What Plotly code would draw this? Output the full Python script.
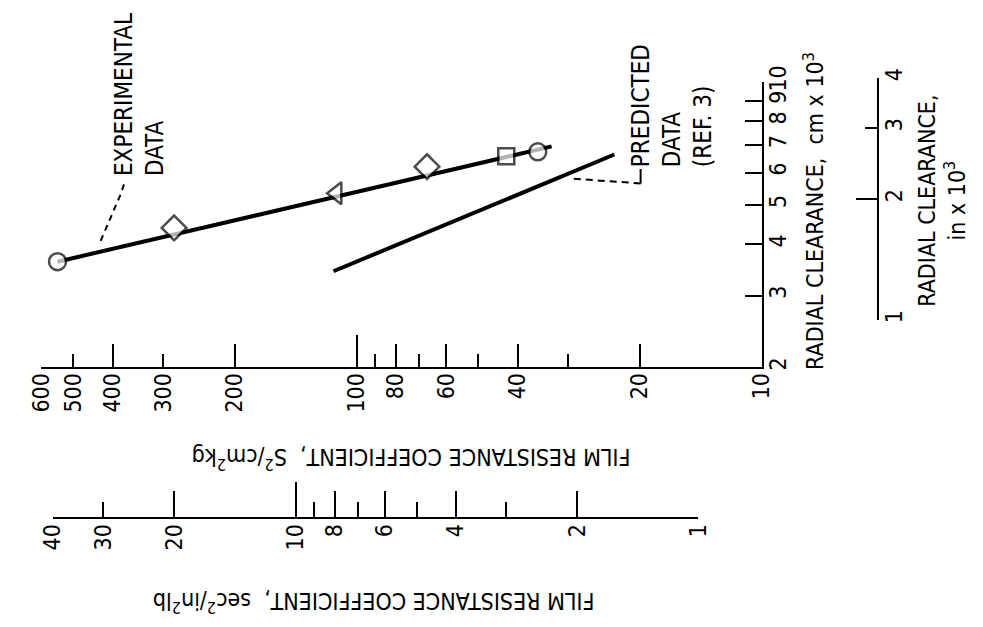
import math
import plotly.graph_objects as go

W, H = 983, 627
FONT = "Liberation Sans Narrow, DejaVu Sans Condensed, Arial Narrow, sans-serif"
INK = "black"

# Experimental film resistance coefficient (S^2/cm^2 kg) vs radial clearance (cm x 10^3)
exp_symbols = ["circle", "diamond", "triangle-left", "diamond", "square", "circle"]
exp_resistance = [547, 282, 112, 67, 42.7, 35.7]
exp_clearance = [3.63, 4.39, 5.34, 6.20, 6.58, 6.74]

# Straight line faired through the experimental points
exp_fit_resistance = [547, 33]
exp_fit_clearance = [3.63, 6.95]

# Predicted values (ref. 3)
pred_resistance = [114, 23.1]
pred_clearance = [3.44, 6.64]

# Leader lines for the two labels (resistance, clearance)
exp_leader_resistance = [375, 382, 431]
exp_leader_clearance = [5.61, 5.31, 4.02]
pred_leader_solid_resistance = [19.9, 19.9]
pred_leader_solid_clearance = [6.12, 5.64]
pred_leader_dash_resistance = [19.9, 29.4]
pred_leader_dash_clearance = [5.64, 5.80]

# Primary resistance scale, S^2/cm^2 kg
res_range = [600, 10]
res_long_ticks = [600, 400, 200, 80, 60, 40, 20]
res_short_ticks = [500, 300, 90, 70, 50, 30]
res_major_ticks = [100]
res_labels = [600, 500, 400, 300, 200, 100, 80, 60, 40, 20, 10]

# Secondary resistance scale, sec^2/in^2 lb
res2_range = [40, 1]
res2_long_ticks = [40, 20, 8, 6, 4, 2]
res2_short_ticks = [30, 9, 7, 5, 3]
res2_major_ticks = [10, 1]
res2_labels = [40, 30, 20, 10, 8, 6, 4, 2, 1]

# Primary clearance scale, cm x 10^3
clr_range = [2, 10]
clr_ticks = [3, 4, 5, 6, 7, 8, 9]
clr_major_ticks = [10]
clr_labels = [2, 3, 4, 5, 6, 7, 8, 9, 10]

# Secondary clearance scale, in x 10^3
clr2_range = [1, 4]
clr2_long_ticks = [1, 4]
clr2_mid_ticks = [2]
clr2_short_ticks = [3]
clr2_labels = [1, 2, 3, 4]


def px(x):
    return x / W


def py(y):
    return 1 - y / H


def lg(v):
    return [math.log10(a) for a in v]


X_DOM = [px(28), px(768)]
Y_DOM = [py(362), py(67)]
X2_DOM = [px(40), px(703)]
X2_POS = py(518)
Y2_DOM = [py(313), py(63)]
Y2_POS = px(887)

fig = go.Figure()

line_style = dict(color=INK, width=4)
fig.add_trace(go.Scatter(x=exp_fit_resistance, y=exp_fit_clearance, mode="lines",
                         line=line_style, showlegend=False, hoverinfo="skip"))
fig.add_trace(go.Scatter(x=pred_resistance, y=pred_clearance, mode="lines",
                         line=line_style, showlegend=False, hoverinfo="skip"))
fig.add_trace(go.Scatter(x=exp_leader_resistance, y=exp_leader_clearance, mode="lines",
                         line=dict(color=INK, width=2, dash="6px,5px"),
                         showlegend=False, hoverinfo="skip"))
fig.add_trace(go.Scatter(x=pred_leader_solid_resistance, y=pred_leader_solid_clearance,
                         mode="lines", line=dict(color=INK, width=2),
                         showlegend=False, hoverinfo="skip"))
fig.add_trace(go.Scatter(x=pred_leader_dash_resistance, y=pred_leader_dash_clearance,
                         mode="lines", line=dict(color=INK, width=2, dash="7px,5px"),
                         showlegend=False, hoverinfo="skip"))

marker_sizes = {"circle": 17, "diamond": 19, "triangle-left": 19, "square": 16}
fig.add_trace(go.Scatter(
    x=exp_resistance, y=exp_clearance, mode="markers",
    marker=dict(symbol=exp_symbols, size=[marker_sizes[s] for s in exp_symbols],
                color="white", line=dict(color=INK, width=2.5)),
    showlegend=False, hoverinfo="skip", cliponaxis=False))

layout = dict(
    width=W, height=H, margin=dict(l=0, r=0, t=0, b=0),
    paper_bgcolor="white", plot_bgcolor="rgba(0,0,0,0)",
    font=dict(family=FONT, color=INK, size=22),
    showlegend=False,
)

tick_font = dict(family=FONT, size=23, color=INK)


def x_layer(base_range, domain, vals, length, labels=None, overlay=None, anchor="y",
            position=None, line=False):
    ax = dict(type="log", range=lg(base_range), domain=domain, autorange=False,
              side="bottom", showgrid=False, zeroline=False, fixedrange=True,
              tickmode="array", tickvals=vals,
              ticks="inside" if length else "", ticklen=length, tickwidth=2,
              tickcolor=INK, showline=line, linecolor=INK, linewidth=2,
              showticklabels=labels is not None)
    if labels is not None:
        ax.update(ticktext=[str(v) for v in labels], tickangle=-90, tickfont=tick_font)
    if overlay:
        ax["overlaying"] = overlay
    if anchor == "free":
        ax.update(anchor="free", position=position)
    else:
        ax["anchor"] = anchor
    return ax


def y_layer(base_range, domain, vals, length, labels=None, overlay=None, anchor="x",
            position=None, line=False):
    ax = dict(type="log", range=lg(base_range), domain=domain, autorange=False,
              side="right", showgrid=False, zeroline=False, fixedrange=True,
              tickmode="array", tickvals=vals,
              ticks="inside" if length else "", ticklen=length, tickwidth=2,
              tickcolor=INK, showline=line, linecolor=INK, linewidth=2,
              showticklabels=labels is not None)
    if labels is not None:
        ax.update(ticktext=[str(v) for v in labels], tickangle=-90, tickfont=tick_font)
    if overlay:
        ax["overlaying"] = overlay
    if anchor == "free":
        ax.update(anchor="free", position=position)
    else:
        ax["anchor"] = anchor
    return ax


# Resistance axes (horizontal)
layout["xaxis"] = x_layer(res_range, X_DOM, res_long_ticks, 23, line=True)
layout["xaxis2"] = x_layer(res_range, X_DOM, res_short_ticks, 13, overlay="x")
layout["xaxis3"] = x_layer(res_range, X_DOM, res_major_ticks, 32, overlay="x")
layout["xaxis4"] = x_layer(res_range, X_DOM, res_labels, 0, labels=res_labels, overlay="x")

layout["xaxis5"] = x_layer(res2_range, X2_DOM, res2_long_ticks, 26, anchor="free",
                           position=X2_POS, line=True)
layout["xaxis6"] = x_layer(res2_range, X2_DOM, res2_short_ticks, 16, overlay="x5",
                           anchor="free", position=X2_POS)
layout["xaxis7"] = x_layer(res2_range, X2_DOM, res2_major_ticks, 36, overlay="x5",
                           anchor="free", position=X2_POS)
layout["xaxis8"] = x_layer(res2_range, X2_DOM, res2_labels, 0, labels=res2_labels,
                           overlay="x5", anchor="free", position=X2_POS)

# Clearance axes (vertical)
layout["yaxis"] = y_layer(clr_range, Y_DOM, clr_ticks, 17, line=True)
layout["yaxis2"] = y_layer(clr_range, Y_DOM, clr_major_ticks, 25, overlay="y")
layout["yaxis3"] = y_layer(clr_range, Y_DOM, clr_labels, 0, labels=clr_labels, overlay="y")

layout["yaxis4"] = y_layer(clr2_range, Y2_DOM, clr2_long_ticks, 27, anchor="free",
                           position=Y2_POS, line=True)
layout["yaxis5"] = y_layer(clr2_range, Y2_DOM, clr2_mid_ticks, 22, overlay="y4",
                           anchor="free", position=Y2_POS)
layout["yaxis6"] = y_layer(clr2_range, Y2_DOM, clr2_short_ticks, 13, overlay="y4",
                           anchor="free", position=Y2_POS)
layout["yaxis7"] = y_layer(clr2_range, Y2_DOM, clr2_labels, 0, labels=clr2_labels,
                           overlay="y4", anchor="free", position=Y2_POS)

# Empty traces so every scale layer is attached to a subplot
for xa in ["x2", "x3", "x4", "x5", "x6", "x7", "x8"]:
    fig.add_trace(go.Scatter(x=[], y=[], xaxis=xa, yaxis="y", showlegend=False,
                             hoverinfo="skip"))
for ya in ["y2", "y3", "y4", "y5", "y6", "y7"]:
    fig.add_trace(go.Scatter(x=[], y=[], xaxis="x", yaxis=ya, showlegend=False,
                             hoverinfo="skip"))

title_font = dict(family=FONT, size=23, color=INK)
label_font = dict(family=FONT, size=24, color=INK)
layout["annotations"] = [
    dict(text="FILM RESISTANCE COEFFICIENT,  S<sup>2</sup>/cm<sup>2</sup>kg",
         x=px(408), y=py(456), textangle=180, font=title_font),
    dict(text="FILM RESISTANCE COEFFICIENT,  sec<sup>2</sup>/in<sup>2</sup>lb",
         x=px(369), y=py(605), textangle=180, font=title_font),
    dict(text="RADIAL CLEARANCE,  cm x 10<sup>3</sup>",
         x=px(821), y=py(200), textangle=-90, font=title_font),
    dict(text="RADIAL CLEARANCE,<br>in x 10<sup>3</sup>",
         x=px(953), y=py(190), textangle=-90, font=title_font),
    dict(text="EXPERIMENTAL<br>DATA", align="left",
         x=px(129), y=py(80), textangle=-90, font=label_font),
    dict(text="PREDICTED<br>DATA<br>(REF. 3)", align="left",
         x=px(676), y=py(92), textangle=-90, font=label_font),
]
for a in layout["annotations"]:
    a.update(xref="paper", yref="paper", showarrow=False,
             xanchor="center", yanchor="middle")

fig.update_layout(**layout)
fig.write_html("out.html")
